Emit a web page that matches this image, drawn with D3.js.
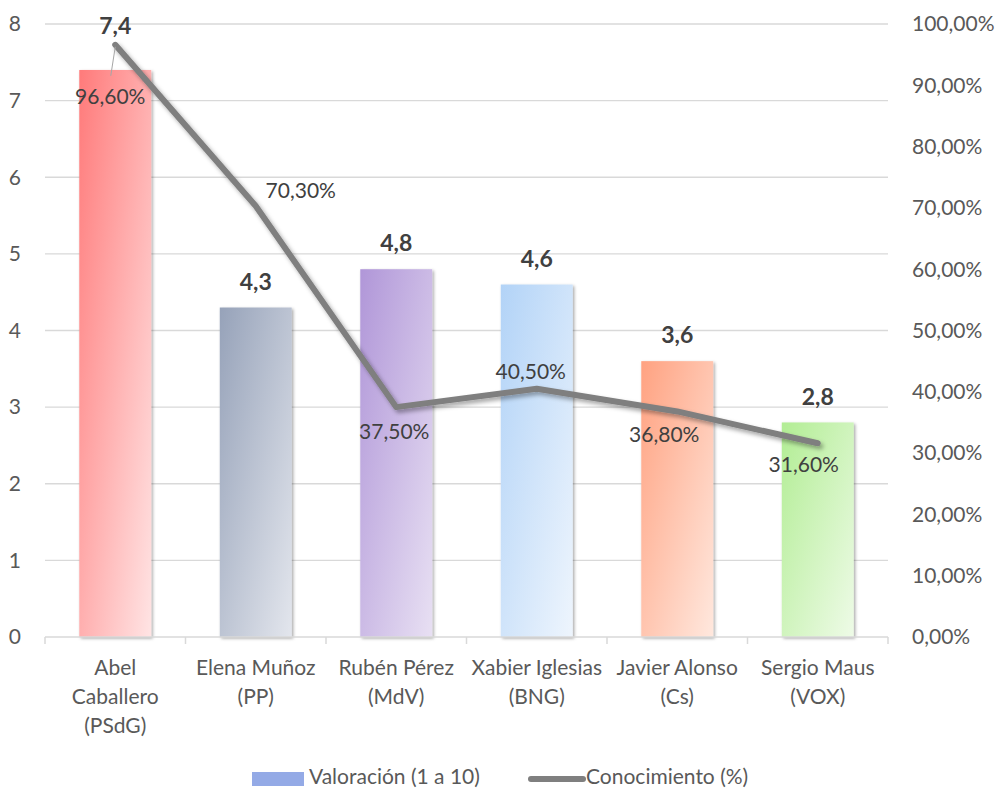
<!DOCTYPE html>
<html><head><meta charset="utf-8">
<script src="https://cdn.jsdelivr.net/npm/d3@7"></script>
<style>
html,body{margin:0;padding:0;background:#fff;}
svg{display:block;font-family:Lato,"Open Sans",sans-serif;}
</style></head>
<body>
<svg id="chart" width="995" height="790"></svg>
<script>
// ---- data ----
const categories = [["Abel","Caballero","(PSdG)"],["Elena Muñoz","(PP)"],["Rubén Pérez","(MdV)"],["Xabier Iglesias","(BNG)"],["Javier Alonso","(Cs)"],["Sergio Maus","(VOX)"]];
const valoracion = [7.4, 4.3, 4.8, 4.6, 3.6, 2.8];
const conocimiento = [96.6, 70.3, 37.5, 40.5, 36.8, 31.6];
const leftTicks = [0,1,2,3,4,5,6,7,8];
const rightTicks = [0,10,20,30,40,50,60,70,80,90,100];
const seriesNames = ["Valoración (1 a 10)", "Conocimiento (%)"];
// styles
const barColors = [["#ff7a7a","#ffe4e4"],["#96a2b9","#e3e6ed"],["#b096d8","#e8e0f3"],["#b2d3f7","#eef5fd"],["#ffa281","#ffe8de"],["#b2ed94","#eefbe7"]];
const pctLabelOffset = [[-5,52],[45,-15],[-2,25],[-6,-17],[-13,23],[-14,21]];
const valLabelOffset = [-44,-26,-26,-26,-26,-26];
const FS = 21;

const svg = d3.select("#chart");
const mLeft = 45, mRight = 888, mTop = 24, mBottom = 637;

const x = d3.scaleBand().domain(d3.range(categories.length)).range([mLeft,mRight]).paddingInner(0.488).paddingOuter(0.244);
const xBand = d3.scaleBand().domain(d3.range(categories.length)).range([mLeft,mRight]);
const yL = d3.scaleLinear().domain([0,8]).range([mBottom,mTop]);
const yR = d3.scaleLinear().domain([0,100]).range([mBottom,mTop]);

const defs = svg.append("defs");
barColors.forEach((c,i)=>{
  const g = defs.append("linearGradient").attr("id","g"+i).attr("x1",0).attr("y1",0).attr("x2",1).attr("y2",1);
  g.append("stop").attr("offset","0%").attr("stop-color",c[0]);
  g.append("stop").attr("offset","100%").attr("stop-color",c[1]);
});
const f1 = defs.append("filter").attr("id","barShadow").attr("x","-20%").attr("y","-5%").attr("width","140%").attr("height","110%");
f1.append("feDropShadow").attr("dx",1.5).attr("dy",1.5).attr("stdDeviation",1.4).attr("flood-color","#000").attr("flood-opacity",0.35);
const f2 = defs.append("filter").attr("id","lineShadow").attr("x","-10%").attr("y","-10%").attr("width","120%").attr("height","130%");
f2.append("feDropShadow").attr("dx",2.5).attr("dy",3).attr("stdDeviation",2.2).attr("flood-color","#000").attr("flood-opacity",0.35);

// gridlines
svg.append("g").selectAll("line").data(leftTicks.slice(1)).join("line")
  .attr("x1",mLeft).attr("x2",mRight).attr("y1",d=>yL(d)).attr("y2",d=>yL(d))
  .attr("stroke","#d9d9d9").attr("stroke-width",1.3);

// left axis labels
svg.append("g").selectAll("text").data(leftTicks).join("text")
  .attr("x",21).attr("y",d=>yL(d)).attr("dy","0.35em").attr("text-anchor","end")
  .attr("font-size",FS).attr("fill","#595959").text(d=>d);
// right axis labels
svg.append("g").selectAll("text").data(rightTicks).join("text")
  .attr("x",912).attr("y",d=>yR(d)).attr("dy","0.35em").attr("text-anchor","start")
  .attr("font-size",FS).attr("fill","#595959").text(d=>d3.format(".2f")(d).replace(".",",")+"%");

// bars
svg.append("g").selectAll("rect").data(valoracion).join("rect")
  .attr("x",(d,i)=>x(i)).attr("width",x.bandwidth())
  .attr("y",d=>yL(d)).attr("height",d=>mBottom-yL(d))
  .attr("fill",(d,i)=>`url(#g${i})`).attr("filter","url(#barShadow)");

// bottom axis
svg.append("line").attr("x1",mLeft).attr("x2",mRight).attr("y1",mBottom).attr("y2",mBottom).attr("stroke","#d9d9d9").attr("stroke-width",1.5);
svg.append("g").selectAll("line").data(d3.range(categories.length+1)).join("line")
  .attr("x1",i=>i<categories.length?xBand(i):mRight).attr("x2",i=>i<categories.length?xBand(i):mRight)
  .attr("y1",mBottom).attr("y2",mBottom+7).attr("stroke","#d9d9d9").attr("stroke-width",1.5);

// category labels
const cat = svg.append("g").selectAll("text").data(categories).join("text")
  .attr("x",(d,i)=>xBand(i)+xBand.bandwidth()/2).attr("text-anchor","middle")
  .attr("font-size",FS).attr("fill","#595959");
cat.each(function(lines){
  d3.select(this).selectAll("tspan").data(lines).join("tspan")
    .attr("x",d3.select(this).attr("x")).attr("y",(l,j)=>668+j*29).attr("dy","0.35em").text(l=>l);
});

// line
const cx = i=>x(i)+x.bandwidth()/2;
const line = d3.line().x((d,i)=>cx(i)).y(d=>yR(d));
svg.append("path").datum(conocimiento).attr("d",line).attr("fill","none")
  .attr("stroke","#7f7f7f").attr("stroke-width",6).attr("stroke-linejoin","round").attr("stroke-linecap","round")
  .attr("filter","url(#lineShadow)");

// leader line for first pct label
svg.append("line").attr("x1",cx(0)).attr("y1",yR(conocimiento[0])+2).attr("x2",cx(0)-4.5).attr("y2",yR(conocimiento[0])+31)
  .attr("stroke","#a6a6a6").attr("stroke-width",1);

// pct labels
svg.append("g").selectAll("text").data(conocimiento).join("text")
  .attr("x",(d,i)=>cx(i)+pctLabelOffset[i][0]).attr("y",(d,i)=>yR(d)+pctLabelOffset[i][1])
  .attr("dy","0.35em").attr("text-anchor","middle").attr("font-size",FS).attr("fill","#404040")
  .text(d=>d3.format(".2f")(d).replace(".",",")+"%");

// value labels
svg.append("g").selectAll("text").data(valoracion).join("text")
  .attr("x",(d,i)=>cx(i)).attr("y",(d,i)=>yL(d)+valLabelOffset[i])
  .attr("dy","0.35em").attr("text-anchor","middle").attr("font-size",23).attr("font-weight","bold").attr("fill","#404040")
  .text(d=>d3.format(".1f")(d).replace(".",","));

// legend
const lg = svg.append("g");
lg.append("rect").attr("x",252).attr("y",772).attr("width",52).attr("height",14).attr("fill","#94aae6");
lg.append("text").attr("x",309).attr("y",777).attr("dy","0.35em").attr("font-size",FS).attr("fill","#595959").text(seriesNames[0]);
lg.append("line").attr("x1",531).attr("x2",583).attr("y1",779).attr("y2",779).attr("stroke","#7f7f7f").attr("stroke-width",6).attr("stroke-linecap","round");
lg.append("text").attr("x",586).attr("y",777).attr("dy","0.35em").attr("font-size",FS).attr("fill","#595959").text(seriesNames[1]);
</script>
</body></html>
